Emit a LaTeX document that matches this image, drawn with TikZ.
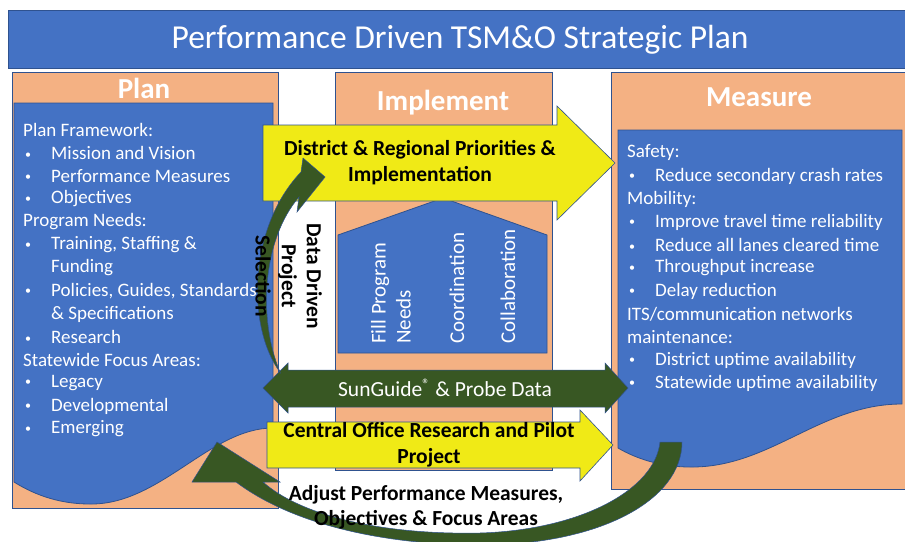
\documentclass[tikz,border=0pt]{standalone}
\usepackage{fontspec}
\setmainfont{Carlito}

\definecolor{tsmblue}{RGB}{68,114,196}
\definecolor{tsmedge}{RGB}{47,82,143}
\definecolor{tsmorange}{RGB}{244,177,131}
\definecolor{tsmgreen}{RGB}{56,87,35}
\definecolor{tsmyellow}{RGB}{240,234,22}

% bullet and hanging indent for the list lines
\newcommand{\bul}{\hspace*{2pt}\makebox[26pt][l]{\fontsize{12}{12}\selectfont\raisebox{1.5pt}{\textbullet}}}
\newcommand{\ind}{\hspace*{28pt}}

\begin{document}
\begin{tikzpicture}[x=1pt, y=-1pt,
    box/.style={fill=tsmorange, draw=tsmedge, line width=0.8pt},
    panel/.style={fill=tsmblue, draw=tsmedge, line width=0.8pt},
    yarrow/.style={fill=tsmyellow, draw=tsmedge, line width=0.6pt},
    garrow/.style={fill=tsmgreen, draw=tsmedge, line width=0.5pt},
    hdr/.style={text=white, inner sep=0pt, font=\fontsize{29}{33}\selectfont\bfseries},
    item/.style={text=white, anchor=west, inner sep=0pt, font=\fontsize{19}{22}\selectfont},
    vtxt/.style={text=white, inner sep=0pt, align=left, font=\fontsize{21}{25}\selectfont},
    blk/.style={text=black, inner sep=0pt, align=center, font=\fontsize{21.5}{26}\selectfont\bfseries}
]
\useasboundingbox (0,0) rectangle (905,541);
\clip (0,0) rectangle (905,541);
\fill[white] (0,0) rectangle (905,541);

% ---- Title bar ----
\fill[tsmblue, draw=tsmedge, line width=0.8pt] (8,10) rectangle (910,68);
\node[text=white, font=\fontsize{33.5}{38}\selectfont] (title) at (460,40) {Performance Driven TSM\&O Strategic Plan};

% ---- Plan column ----
\draw[box] (12,72) rectangle (278,508);
\draw[panel] (14,103) -- (273,103) -- (273,428)
    .. controls (210,428) and (160,505) .. (90,504)
    .. controls (55,504) and (30,492) .. (14,482) -- cycle;
\node[hdr] (plan) at (144,88) {Plan};

\foreach \t [count=\i] in {{Plan Framework:}, {\bul Mission and Vision},
    {\bul Performance Measures}, {\bul Objectives}, {Program Needs:},
    {\bul Training, Staffing \&}, {\ind Funding},
    {\bul Policies, Guides, Standards}, {\ind \& Specifications},
    {\bul Research}, {Statewide Focus Areas:}, {\bul Legacy},
    {\bul Developmental}, {\bul Emerging}}
    \node[item] (plan\i) at (23, 107+23*\i) {\t};

% ---- Implement column ----
\draw[box] (335,72) rectangle (552,470);
\node[hdr] (impl) at (443,103) {Implement};
\draw[panel] (338,235) -- (443,198) -- (547,235) -- (547,353) -- (338,353) -- cycle;

\node[vtxt, rotate=90, anchor=west] (fill) at (391,344) {Fill Program\\Needs};
\node[vtxt, rotate=90, anchor=west] (coord) at (457,344) {Coordination};
\node[vtxt, rotate=90, anchor=west] (collab) at (508,344) {Collaboration};

% ---- Measure column ----
\draw[box] (611,72) rectangle (910,489);
\draw[panel] (618,130) -- (902,130) -- (902,404)
    .. controls (820,404) and (770,468) .. (690,467)
    .. controls (660,467) and (635,458) .. (618,448) -- cycle;
\node[hdr] (meas) at (759,97) {Measure};

\foreach \t [count=\i] in {{Safety:}, {\bul Reduce secondary crash rates},
    {Mobility:}, {\bul Improve travel time reliability},
    {\bul Reduce all lanes cleared time}, {\bul Throughput increase},
    {\bul Delay reduction}, {ITS/communication networks}, {maintenance:},
    {\bul District uptime availability}, {\bul Statewide uptime availability}}
    \node[item] (meas\i) at (627, 130+23*\i) {\t};

% ---- Block arrows ----
\draw[yarrow] (263,125) -- (557,125) -- (557,106) -- (615,163) -- (557,220)
    -- (557,201) -- (263,201) -- cycle;
\node[blk] (district) at (420,163) {District \& Regional Priorities \&\\Implementation};

\draw[garrow] (263,388) -- (288,363) -- (288,370) -- (605,370) -- (605,363)
    -- (628,388) -- (605,413) -- (605,407) -- (288,407) -- (288,413) -- cycle;
\node[text=white, font=\fontsize{21.5}{24}\selectfont] (sunguide) at (445,388)
    {SunGuide\textsuperscript{\textregistered} \& Probe Data};

\draw[yarrow] (267,422) -- (580,422) -- (580,410) -- (613,445) -- (580,481)
    -- (580,468) -- (267,468) -- cycle;
\node[blk] (central) at (429,445) {Central Office Research and Pilot\\Project};

% ---- Curved arrows ----
\fill[garrow] (280,372) .. controls (248,330) and (246,230) .. (301,172)
    -- (303,158) -- (325,177) -- (297,212) -- (299,197)
    .. controls (262,240) and (258,320) .. (280,372) -- cycle;
\node[blk, rotate=-90] (select) at (263,276) {Selection};
\node[blk, rotate=-90, font=\fontsize{21.5}{25}\selectfont\bfseries] (datadriven) at (300,276) {Data Driven\\Project};

\fill[garrow] (660,442) -- (682,442)
    .. controls (682,500) and (600,545) .. (480,545)
    .. controls (400,545) and (300,530) .. (236,482)
    -- (192,482) -- (217,442) -- (280,482) -- (263,482)
    .. controls (300,515) and (380,535) .. (480,533)
    .. controls (580,530) and (655,490) .. (660,442) -- cycle;
\node[blk, font=\fontsize{21.5}{25}\selectfont\bfseries] (adjust) at (426,507) {Adjust Performance Measures,\\Objectives \& Focus Areas};

\end{tikzpicture}
\end{document}
